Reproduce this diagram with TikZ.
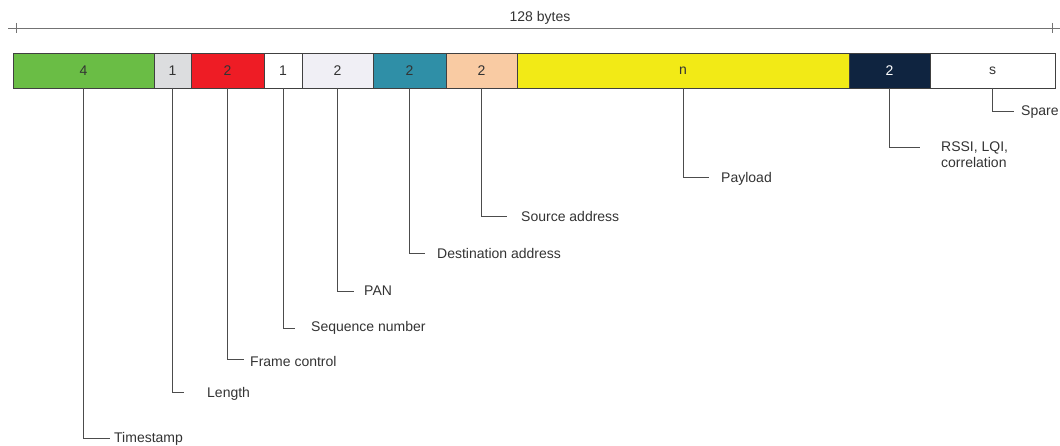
\documentclass[tikz,border=0pt]{standalone}
\usepackage{fontspec}
\setmainfont{Liberation Sans}
\begin{document}
\begin{tikzpicture}[x=1pt,y=-1pt,
  field/.style={draw=black!75, line width=0.9pt, anchor=west, inner sep=0pt, outer sep=0pt,
    minimum height=35pt, text=black!80, font=\fontsize{14}{16}\selectfont},
  lbl/.style={anchor=west, inner sep=0pt, text=black!80, font=\fontsize{14}{16}\selectfont, align=left},
  lead/.style={draw=black!70, line width=0.7pt},
  dim/.style={draw=black!55, line width=0.9pt}]
\definecolor{cgreen}{HTML}{6ABD45}
\definecolor{cgray}{HTML}{DCDDDF}
\definecolor{cred}{HTML}{EE1C25}
\definecolor{clav}{HTML}{F0EFF5}
\definecolor{cteal}{HTML}{2F8FA7}
\definecolor{cpeach}{HTML}{F9CBA3}
\definecolor{cyellow}{HTML}{F2EA16}
\definecolor{cnavy}{HTML}{0F2440}
\useasboundingbox (0,0) rectangle (1060,446);

% overall length
\coordinate (dl) at (8,28);
\coordinate (dr) at (1060,28);
\draw[dim] (dl) -- (dr);
\draw[dim, line width=0.7pt] (16,23) -- (16,33);
\draw[dim, line width=0.7pt] (1052,23) -- (1052,33);
\node[lbl, anchor=center] (total) at (540,18) {128 bytes};

% frame fields
\node[field, fill=cgreen,  minimum width=141pt] (f1)  at (13,70.5)  {4};
\node[field, fill=cgray,   minimum width=37pt]  (f2)  at (154,70.5) {1};
\node[field, fill=cred,    minimum width=73pt]  (f3)  at (191,70.5) {2};
\node[field, fill=white,   minimum width=38pt]  (f4)  at (264,70.5) {1};
\node[field, fill=clav,    minimum width=71pt]  (f5)  at (302,70.5) {2};
\node[field, fill=cteal,   minimum width=73pt]  (f6)  at (373,70.5) {2};
\node[field, fill=cpeach,  minimum width=71pt]  (f7)  at (446,70.5) {2};
\node[field, fill=cyellow, minimum width=332pt] (f8)  at (517,70.5) {n};
\node[field, fill=cnavy,   minimum width=81pt, text=white] (f9) at (849,70.5) {2};
\node[field, fill=white,   minimum width=125pt] (f10) at (930,70.5) {s};

% leader ends
\coordinate (e1)  at (110,438);
\coordinate (e2)  at (184,392);
\coordinate (e3)  at (244,359);
\coordinate (e4)  at (295,328);
\coordinate (e5)  at (354,291);
\coordinate (e6)  at (425,253);
\coordinate (e7)  at (507,216);
\coordinate (e8)  at (709,177);
\coordinate (e9)  at (920,147);
\coordinate (e10) at (1014,111);

% labels
\node[lbl] (l1)  at (114,439) {Timestamp};
\node[lbl] (l2)  at (207,394) {Length};
\node[lbl] (l3)  at (250,361) {Frame control};
\node[lbl] (l4)  at (311,328) {Sequence number};
\node[lbl] (l5)  at (364,291) {PAN};
\node[lbl] (l6)  at (437,253) {Destination address};
\node[lbl] (l7)  at (521,216) {Source address};
\node[lbl] (l8)  at (721,179) {Payload};
\node[lbl] (l9)  at (941,155) {RSSI, LQI,\\correlation};
\node[lbl] (l10) at (1021,112) {Spare};

% leaders
\foreach \i in {1,...,10} \draw[lead] (f\i.south) |- (e\i);
\end{tikzpicture}
\end{document}
